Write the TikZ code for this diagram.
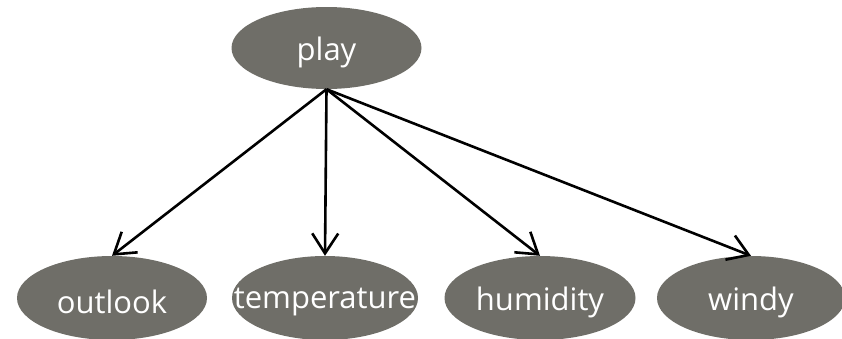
\documentclass[tikz,border=0pt]{standalone}
\usepackage{fontspec}
\setmainfont{Open Sans}
\usetikzlibrary{shapes.geometric,arrows.meta}
\definecolor{nodegray}{RGB}{111,110,104}
\tikzset{
  ell/.style={ellipse, fill=nodegray, draw=none, inner sep=0pt,
    minimum width=190pt, minimum height=84pt},
  lbl/.style={text=white, font=\fontsize{31}{34}\selectfont, inner sep=0pt},
  edge/.style={line width=2.6pt, -{Straight Barb[length=20pt,width=26pt,line width=2.6pt]}}
}
\begin{document}
\begin{tikzpicture}[x=1pt,y=-1pt]
\useasboundingbox (0,0) rectangle (842,338);
\node[ell, minimum height=82pt] (play) at (326.5,48) {};
\node[lbl] (playt) at ([yshift=-4pt]play.center) {play};
\node[ell] (outlook) at (112,298) {};
\node[lbl] (outlookt) at ([yshift=-4pt]outlook.center) {outlook};
\node[ell, minimum width=186pt] (temp) at (325,298) {};
\node[lbl] (tempt) at ([yshift=-4pt]temp.center) {temperature};
\node[ell, minimum width=191pt] (hum) at (540,298) {};
\node[lbl] (humt) at ([yshift=-4pt]hum.center) {humidity};
\node[ell, minimum width=188pt] (windy) at (751,298) {};
\node[lbl] (windyt) at ([yshift=-4pt]windy.center) {windy};
\coordinate (src) at (play.south);
\draw[edge] (src) -- (outlook.north);
\draw[edge] (src) -- (temp.north);
\draw[edge] (src) -- (hum.north);
\draw[edge] (src) -- (windy.north);
\end{tikzpicture}
\end{document}
